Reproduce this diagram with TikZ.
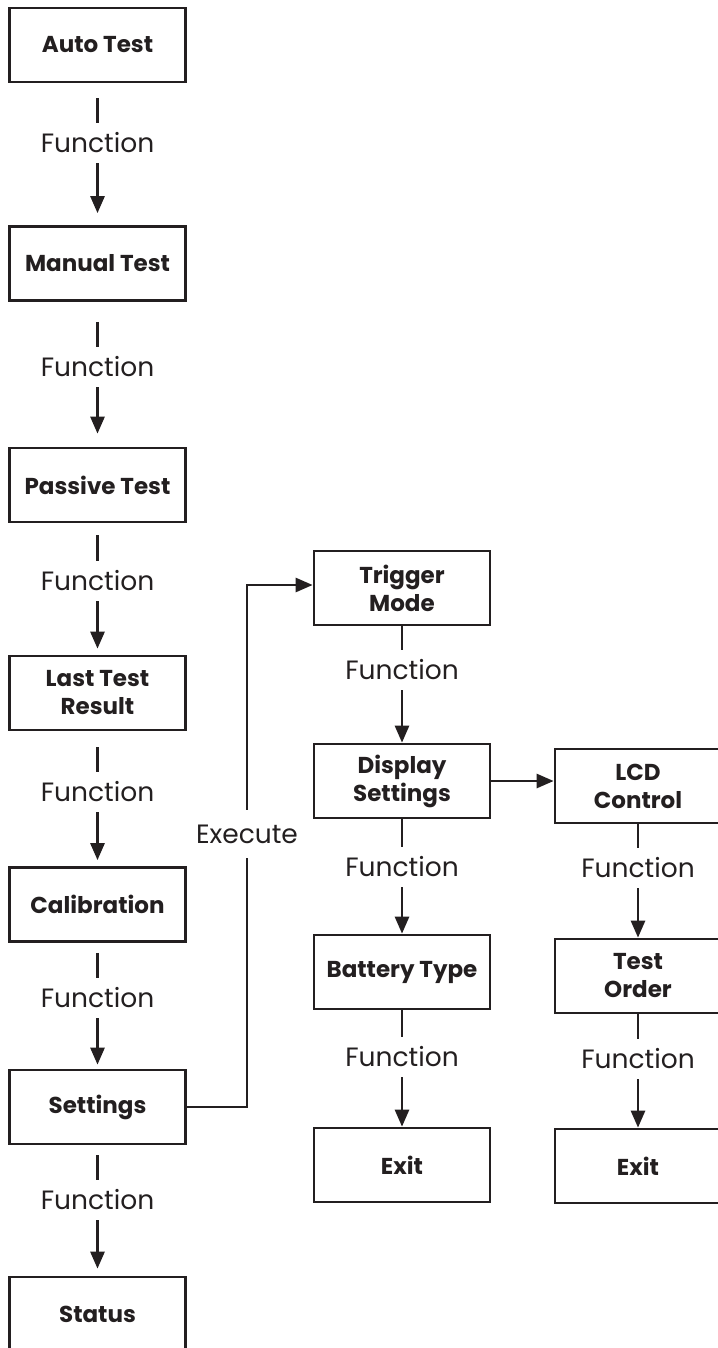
\documentclass[tikz,border=0pt]{standalone}
\usepackage{fontspec}
\setmainfont{Poppins}
\usetikzlibrary{arrows.meta}
\definecolor{ink}{HTML}{231F20}
\begin{document}
\begin{tikzpicture}[x=1pt,y=-1pt,
  box/.style={draw=ink, line width=2.7pt, minimum height=74pt, inner sep=0pt, align=center,
    font=\fontsize{23}{28}\selectfont\bfseries, text=ink},
  lbox/.style={box, minimum width=176pt},
  mbox/.style={box, minimum width=176pt},
  rbox/.style={box, minimum width=166pt},
  flab/.style={inner sep=0pt, minimum height=40pt, font=\fontsize{26.5}{30}\selectfont, text=ink},
  conn/.style={draw=ink, line width=2.7pt},
  arr/.style={conn, -{Triangle[length=17pt,width=14pt]}},
]
\useasboundingbox (0,0) rectangle (717,1348);
% left column
\node[lbox] (auto) at (97.5,45) {Auto Test};
\node[lbox] (manual) at (97.5,263.5) {Manual Test};
\node[lbox] (passive) at (97.5,485) {Passive Test};
\node[lbox] (last) at (97.5,693) {Last Test\\Result};
\node[lbox] (calib) at (97.5,904.5) {Calibration};
\node[lbox] (settings) at (97.5,1107) {Settings};
\node[lbox] (status) at (97.5,1314) {Status};
\node[flab] (f1) at (97.5,143) {Function};
\node[flab] (f2) at (97.5,367) {Function};
\node[flab] (f3) at (97.5,581) {Function};
\node[flab] (f4) at (97.5,792) {Function};
\node[flab] (f5) at (97.5,998) {Function};
\node[flab] (f6) at (97.5,1200) {Function};
\draw[conn, shorten <=15pt] (auto) -- (f1);
\draw[arr, shorten >=12pt] (f1) -- (manual);
\draw[conn, shorten <=20pt] (manual) -- (f2);
\draw[arr, shorten >=13pt] (f2) -- (passive);
\draw[conn, shorten <=12pt] (passive) -- (f3);
\draw[arr, shorten >=6pt] (f3) -- (last);
\draw[conn, shorten <=16pt] (last) -- (f4);
\draw[arr, shorten >=6pt] (f4) -- (calib);
\draw[conn, shorten <=10pt] (calib) -- (f5);
\draw[arr, shorten >=4pt] (f5) -- (settings);
\draw[conn, shorten <=10pt] (settings) -- (f6);
\draw[arr, shorten >=7pt] (f6) -- (status);
% middle column
\node[mbox] (trigger) at (402,588) {Trigger\\Mode};
\node[mbox] (display) at (402,781) {Display\\Settings};
\node[mbox] (battery) at (402,972) {Battery Type};
\node[mbox] (exitm) at (402,1165) {Exit};
\node[flab] (g1) at (402,670) {Function};
\node[flab] (g2) at (402,867) {Function};
\node[flab] (g3) at (402,1057) {Function};
\draw[conn] (trigger) -- (g1);
\draw[arr] (g1) -- (display);
\draw[conn] (display) -- (g2);
\draw[arr] (g2) -- (battery);
\draw[conn] (battery) -- (g3);
\draw[arr] (g3) -- (exitm);
% right column
\node[rbox] (lcd) at (638,786) {LCD\\Control};
\node[rbox] (order) at (638,976) {Test\\Order};
\node[rbox] (exitr) at (638,1166) {Exit};
\node[flab] (h1) at (638,868) {Function};
\node[flab] (h2) at (638,1059) {Function};
\draw[conn] (lcd) -- (h1);
\draw[arr] (h1) -- (order);
\draw[conn] (order) -- (h2);
\draw[arr] (h2) -- (exitr);
\draw[arr] (display.east) -- (display.east -| lcd.west);
% execute
\node[flab, minimum height=48pt] (exec) at (247,834) {Execute};
\draw[conn] (settings.east) -| (exec.south);
\draw[arr] (exec.north) |- ([yshift=3pt]trigger.west);
\end{tikzpicture}
\end{document}
